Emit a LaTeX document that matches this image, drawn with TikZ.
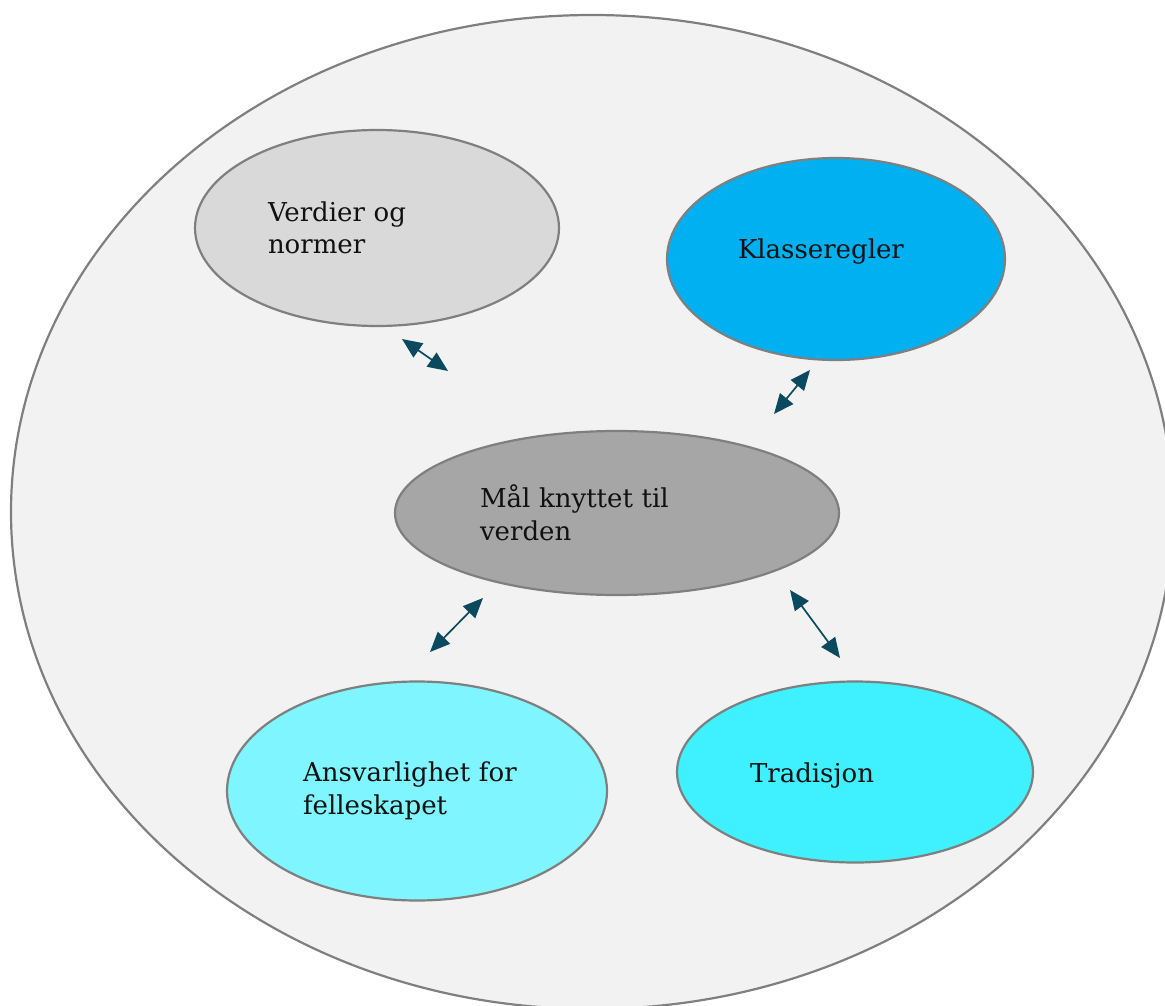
\documentclass[tikz,border=0pt]{standalone}
\usepackage{fontspec}
\setmainfont{DejaVu Serif}
\usepackage{tikz}
\usetikzlibrary{shapes.geometric, arrows.meta}
\definecolor{rammegrey}{HTML}{7f7f7f}
\definecolor{rammebg}{HTML}{f2f2f2}
\definecolor{verdibg}{HTML}{d9d9d9}
\definecolor{klassebg}{HTML}{00b0f0}
\definecolor{maalbg}{HTML}{a6a6a6}
\definecolor{ansvarbg}{HTML}{7ff5ff}
\definecolor{tradbg}{HTML}{3ff0ff}
\definecolor{pil}{HTML}{0b4a5e}
\definecolor{tekst}{HTML}{111111}

\begin{document}
\begin{tikzpicture}[x=1pt, y=-1pt,
    boble/.style={draw=rammegrey, line width=2.2pt, ellipse, inner sep=0pt, align=left,
      text=tekst, font=\fontsize{26}{32.5}\selectfont},
    pilen/.style={{Triangle[length=20pt, width=17pt]}-{Triangle[length=20pt, width=17pt]}, line width=1.7pt, pil}]
    \useasboundingbox (0,0) rectangle (1165,1006);
    \clip (0,0) rectangle (1165,1006);

    \node[boble, fill=rammebg, minimum width=1162pt, minimum height=994pt] (ramme) at (592,512) {};

    \node[boble, fill=verdibg, minimum width=364pt, minimum height=196pt, text width=218pt] (verdier) at (377,228) {Verdier og\\normer};
    \node[boble, fill=klassebg, minimum width=338pt, minimum height=202pt, text width=196pt, text depth=20pt] (klasse) at (836,259) {Klasseregler};
    \node[boble, fill=maalbg, minimum width=444pt, minimum height=164pt, text width=274pt] (maal) at (617,513) {Mål knyttet til\\verden};
    \node[boble, fill=ansvarbg, minimum width=380pt, minimum height=219pt, text width=228pt] (ansvar) at (417,791) {Ansvarlighet for\\felleskapet};
    \node[boble, fill=tradbg, minimum width=356pt, minimum height=181pt, text width=210pt, text height=27pt] (tradisjon) at (855,772) {Tradisjon};

    % pilene mellom boblene
    \coordinate (verdier-ut) at (402,339);
    \coordinate (verdier-inn) at (448,371);
    \coordinate (klasse-ut) at (810,370);
    \coordinate (klasse-inn) at (774,414);
    \coordinate (ansvar-inn) at (483,598);
    \coordinate (ansvar-ut) at (430,652);
    \coordinate (trad-inn) at (790,590);
    \coordinate (trad-ut) at (840,658);

    \draw[pilen] (verdier-ut) -- (verdier-inn);
    \draw[pilen] (klasse-ut) -- (klasse-inn);
    \draw[pilen] (ansvar-inn) -- (ansvar-ut);
    \draw[pilen] (trad-inn) -- (trad-ut);
  \end{tikzpicture}
\end{document}
